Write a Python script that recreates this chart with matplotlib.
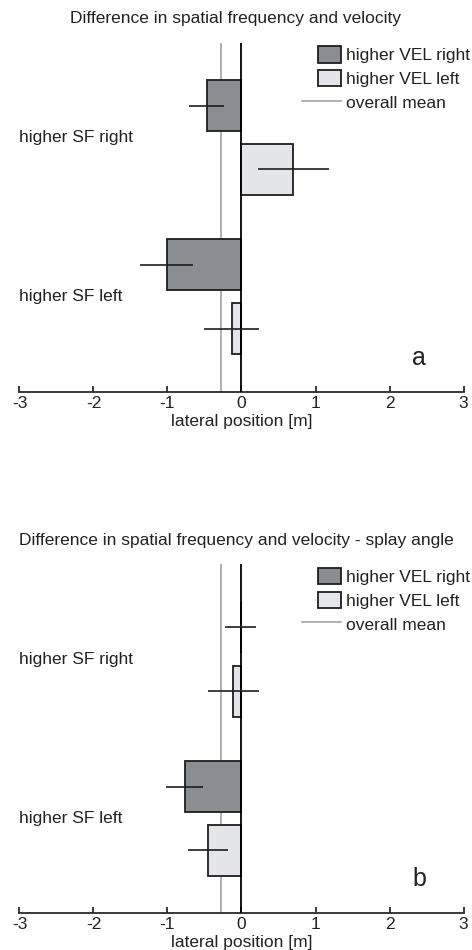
import numpy as np
import matplotlib
matplotlib.use("Agg")
import matplotlib.pyplot as plt
import matplotlib.patches as mpatches
from matplotlib.lines import Line2D
from matplotlib.legend_handler import HandlerPatch

plt.rcParams['font.family'] = ['Liberation Sans', 'DejaVu Sans']
plt.rcParams['axes.unicode_minus'] = False

groups = ["higher SF right", "higher SF left"]
series = ["higher VEL right", "higher VEL left", "overall mean"]

# panel a
a_vel_right = [-0.47, -1.01]
a_vel_right_err = [0.24, 0.36]
a_vel_left = [0.70, -0.13]
a_vel_left_err = [0.48, 0.37]

# panel b (splay angle)
b_vel_right = [-0.01, -0.77]
b_vel_right_err = [0.21, 0.25]
b_vel_left = [-0.11, -0.45]
b_vel_left_err = [0.34, 0.27]

overall_mean = -0.28
xticks = [-3, -2, -1, 0, 1, 2, 3]

dark = "#8a8e93"
light = "#e4e5e8"
edge = "#1e1e1e"
fs = 12.5


def small_box(legend, orig_handle, xdescent, ydescent, width, height, fontsize):
    return mpatches.Rectangle((-xdescent + width * 0.43, -ydescent), width * 0.57, height)


def panel(ax, right, right_err, left, left_err, letter):
    ypos = np.array([2.0, 1.0])
    ax.axvline(overall_mean, color="#9c9c9c", lw=1.1, zorder=1)
    ax.barh(ypos + 0.2, right, height=0.32, color=dark, edgecolor=edge, lw=1.3, zorder=2)
    ax.barh(ypos - 0.2, left, height=0.32, color=light, edgecolor=edge, lw=1.3, zorder=2)
    ax.axvline(0, color="black", lw=1.3, zorder=3)
    ax.errorbar(right, ypos + 0.2, xerr=right_err, fmt="none", ecolor=edge,
                elinewidth=1.2, capsize=0, zorder=4)
    ax.errorbar(left, ypos - 0.2, xerr=left_err, fmt="none", ecolor=edge,
                elinewidth=1.2, capsize=0, zorder=4)
    ax.set_xlim(-3, 3)
    ax.set_ylim(0.405, 2.595)
    for s in ["top", "left", "right"]:
        ax.spines[s].set_visible(False)
    ax.spines["bottom"].set_linewidth(1.3)
    ax.spines["bottom"].set_color("#2a2a2a")
    ax.set_yticks([])
    ax.set_xticks(xticks)
    ax.tick_params(axis="x", direction="in", length=4, width=1.3, color="#2a2a2a",
                   labelsize=fs, pad=3, labelcolor="#222222")
    ax.set_xlabel("lateral position [m]", fontsize=fs, labelpad=2, color="#222222")
    for y, g in zip(ypos, groups):
        ax.text(-3, y, g, ha="left", va="center", fontsize=fs, color="#222222")
    ax.text(0.9, 0.097, letter, transform=ax.transAxes, ha="center", va="center",
            fontsize=18, color="#222222")
    handles = [
        mpatches.Patch(facecolor=dark, edgecolor=edge, lw=1.3),
        mpatches.Patch(facecolor=light, edgecolor=edge, lw=1.3),
        Line2D([], [], color="#9c9c9c", lw=1.1),
    ]
    ax.legend(handles, series, loc="upper left", bbox_to_anchor=(0.6356, 0.99),
              frameon=False, fontsize=fs, handlelength=2.24, handleheight=1.09,
              handletextpad=0.3, labelspacing=0.38, borderpad=0, borderaxespad=0,
              labelcolor="#222222",
              handler_map={mpatches.Patch: HandlerPatch(patch_func=small_box)})


fig = plt.figure(figsize=(4.72, 9.5), dpi=100)
ax_a = fig.add_axes([0.0413, 0.5877, 0.9407, 0.3674])
ax_b = fig.add_axes([0.0413, 0.0386, 0.9407, 0.3674])

panel(ax_a, a_vel_right, a_vel_right_err, a_vel_left, a_vel_left_err, "a")
panel(ax_b, b_vel_right, b_vel_right_err, b_vel_left, b_vel_left_err, "b")

fig.text(0.5, 1 - 19 / 950, "Difference in spatial frequency and velocity",
         ha="center", va="center", fontsize=fs, color="#222222")
fig.text(0.5, 1 - 540 / 950, "Difference in spatial frequency and velocity - splay angle",
         ha="center", va="center", fontsize=fs, color="#222222")

fig.savefig("out.png", dpi=100)
